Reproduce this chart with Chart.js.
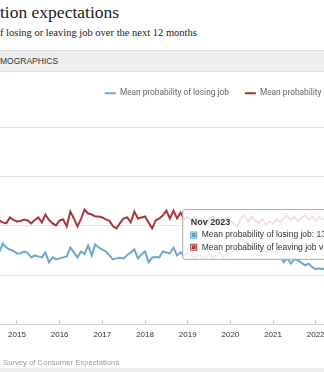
<!DOCTYPE html>
<html lang="en">
<head>
<meta charset="UTF-8">
<title>Job expectations</title>
<script src="https://cdn.jsdelivr.net/npm/chart.js"></script>
<style>
    body { margin: 0; width: 324px; height: 372px; overflow: hidden; background: #fff; position: relative; }
    .title { position: absolute; left: 0; top: 2px; font: 17.5px "Liberation Serif", serif; color: #222; white-space: nowrap; }
    .sub { position: absolute; left: 0; top: 27px; font: 10.5px "Liberation Serif", serif; color: #222; white-space: nowrap; }
    .tab { position: absolute; left: 0; top: 50px; width: 324px; height: 20px; background: #eee; border-top: 1px solid #ddd; border-bottom: 1px solid #ddd; font: 8.5px "Liberation Sans", Arial, sans-serif; color: #333; line-height: 20px; }
    .source { position: absolute; left: 3px; top: 358px; font: 7.7px "Liberation Sans", Arial, sans-serif; color: #999; white-space: nowrap; will-change: transform; }
    .foot { position: absolute; left: 0; top: 368px; width: 324px; height: 4px; background: #eee; }
    #chart { position: absolute; left: -70px; top: 73px; }
</style>
</head>
<body>
    <div class="title">tion expectations</div>
    <div class="sub">f losing or leaving job over the next 12 months</div>
    <div class="tab">MOGRAPHICS</div>
    <canvas id="chart" width="638" height="277"></canvas>
    <div class="source">Survey of Consumer Expectations</div>
    <div class="foot"></div>

<script>
// monthly series, Jun 2013 .. Nov 2023 (percent)
const startYear = 2013;
const startMonth = 5; // June

const losingJob = [
    16.2, 15.8, 16.5, 15.9, 16.8, 16.1, 15.4,
    15.9, 16.3, 15.2, 15.7, 16.0, 15.1, 15.6, 14.6, 16.4, 15.6, 15.2, 14.9,
    14.4, 14.4, 14.8, 14.5, 13.6, 14.0, 13.8, 13.6, 14.6, 12.6, 13.6, 13.2,
    13.4, 13.6, 13.8, 15.6, 14.6, 13.6, 14.8, 14.3, 16.0, 14.0, 16.2, 15.6,
    15.2, 14.8, 14.0, 13.2, 13.4, 13.5, 13.4, 14.1, 14.6, 15.2, 13.4, 14.2,
    14.8, 12.6, 13.6, 13.7, 13.6, 14.8, 14.6, 14.4, 15.6, 14.0, 14.6, 13.9,
    14.4, 14.1, 13.4, 14.2, 13.6, 13.5, 14.3, 13.6, 14.0, 14.6, 13.7, 14.2,
    14.5, 14.9, 15.9, 17.5, 16.6, 16.1, 15.5, 15.4, 16.0, 15.3, 14.6, 15.2,
    14.8, 15.0, 14.0, 12.6, 13.4, 12.4, 13.2, 13.0, 12.5, 12.0, 12.3, 11.6,
    11.2, 11.4, 11.2, 11.6, 12.0, 11.5, 12.1, 11.7, 12.3, 12.5, 11.9, 12.6,
    12.2, 13.0, 12.5, 12.8, 13.3, 12.9, 12.4, 12.7, 13.3, 12.6, 13.6
];

const leavingJob = [
    21.4, 20.8, 21.9, 21.2, 20.6, 21.7, 22.1,
    21.0, 20.9, 21.8, 21.3, 20.7, 21.6, 21.4, 21.1, 20.7, 20.5, 21.7, 21.2,
    20.9, 21.0, 21.3, 21.1, 20.5, 21.2, 21.7, 20.7, 22.3, 21.2, 20.5, 20.1,
    21.1, 21.3, 19.9, 22.9, 21.5, 19.9, 21.4, 23.3, 22.5, 22.3, 21.9, 21.9,
    21.7, 21.3, 21.0, 19.9, 19.5, 20.6, 21.5, 21.7, 20.7, 22.9, 21.5, 21.7,
    21.9, 20.7, 19.5, 21.1, 21.5, 22.1, 23.1, 21.5, 23.1, 21.5, 22.7, 21.3,
    21.9, 21.2, 21.8, 21.0, 21.6, 20.7, 21.4, 21.9, 21.1, 20.6, 21.3, 21.7,
    21.0, 20.4, 19.9, 21.6, 22.1, 20.8, 21.9, 21.1, 20.6, 21.4, 20.2, 20.9,
    20.5, 21.3, 20.7, 21.6, 22.0, 21.2, 21.8, 21.0, 21.7, 22.1, 21.3, 21.9,
    21.1, 21.8, 21.4, 21.1, 21.8, 20.9, 21.4, 20.6, 21.3, 20.8, 21.7, 20.5,
    21.2, 20.9, 21.5, 20.7, 21.0, 21.6, 20.4, 21.1, 20.8, 21.3, 22.9
];

const monthNames = ['Jan', 'Feb', 'Mar', 'Apr', 'May', 'Jun', 'Jul', 'Aug', 'Sep', 'Oct', 'Nov', 'Dec'];
const months = losingJob.map((v, i) => {
    const m = startMonth + i;
    return monthNames[m % 12] + ' ' + (startYear + Math.floor(m / 12));
});

const yTicks = [0, 10, 20, 30, 40];

const blue = '#6fa8c8';
const red = '#a9353d';

// extra space under the legend
const legendGap = {
    id: 'legendGap',
    beforeInit(chart) {
        const fit = chart.legend.fit;
        chart.legend.fit = function () {
            fit.call(this);
            this.height += 20;
        };
    }
};

const ctx = document.getElementById('chart').getContext('2d');
const chart = new Chart(ctx, {
    type: 'line',
    data: {
        labels: months,
        datasets: [
            {
                label: 'Mean probability of losing job',
                data: losingJob,
                borderColor: blue,
                backgroundColor: '#5a9bd0',
                borderWidth: 2,
                pointRadius: 0,
                pointHoverRadius: 0,
                tension: 0
            },
            {
                label: 'Mean probability of leaving job voluntarily',
                data: leavingJob,
                borderColor: red,
                backgroundColor: '#ad3a40',
                borderWidth: 2,
                pointRadius: 0,
                pointHoverRadius: 0,
                tension: 0
            }
        ]
    },
    options: {
        responsive: false,
        animation: false,
        layout: { padding: { left: 19.4, right: 0, top: 0, bottom: 0 } },
        interaction: { mode: 'index', intersect: false },
        scales: {
            x: {
                grid: {
                    drawOnChartArea: false,
                    tickLength: -4, // small marks pointing up from the axis
                    tickColor: c => (c.index + startMonth) % 12 === 0 ? '#ccc' : 'transparent'
                },
                border: { color: '#d5d5d5' },
                ticks: {
                    autoSkip: false,
                    maxRotation: 0,
                    padding: 10,
                    color: '#333',
                    font: { family: '"Liberation Sans", Arial, sans-serif', size: 8 },
                    callback: function (val, i) {
                        return (i + startMonth) % 12 === 0 ? months[i].slice(4) : '';
                    }
                }
            },
            y: {
                position: 'right',
                min: yTicks[0],
                max: yTicks[yTicks.length - 1],
                ticks: { display: false, stepSize: 10 },
                grid: { color: '#e4e4e4', drawTicks: false },
                border: { display: false },
                // empty room on the right, the legend is centred over it
                afterFit: scale => { scale.width = 174; }
            }
        },
        plugins: {
            legend: {
                position: 'top',
                labels: {
                    usePointStyle: true,
                    pointStyle: 'line',
                    pointStyleWidth: 11,
                    padding: 16,
                    color: '#666',
                    font: { family: 'Roboto, sans-serif', size: 8.3 }
                }
            },
            tooltip: {
                mode: 'index',
                intersect: false,
                position: 'average',
                yAlign: 'center',
                backgroundColor: 'rgba(255,255,255,0.85)',
                borderColor: '#aaa',
                borderWidth: 1,
                cornerRadius: 2,
                caretSize: 0,
                caretPadding: 0,
                padding: { top: 7, bottom: 7, left: 8, right: 8 },
                titleColor: '#333',
                bodyColor: '#333',
                titleFont: { family: '"Liberation Sans", Arial, sans-serif', size: 9, weight: 'bold' },
                bodyFont: { family: '"Liberation Sans", Arial, sans-serif', size: 8.5 },
                titleMarginBottom: 2.5,
                bodySpacing: 2,
                boxWidth: 6,
                boxHeight: 6,
                boxPadding: 3,
                callbacks: {
                    label: item => item.dataset.label + ': ' + item.parsed.y.toFixed(1) + '%',
                    labelColor: item => ({
                        borderColor: item.dataset.backgroundColor,
                        backgroundColor: item.dataset.backgroundColor,
                        borderWidth: 0
                    })
                }
            }
        }
    },
    plugins: [legendGap]
});

// show the tooltip for the last month, as in the screenshot
const last = months.length - 1;
const active = [{ datasetIndex: 0, index: last }, { datasetIndex: 1, index: last }];
chart.tooltip.setActiveElements(active, { x: 0, y: 0 });
chart.update();
</script>
</body>
</html>
